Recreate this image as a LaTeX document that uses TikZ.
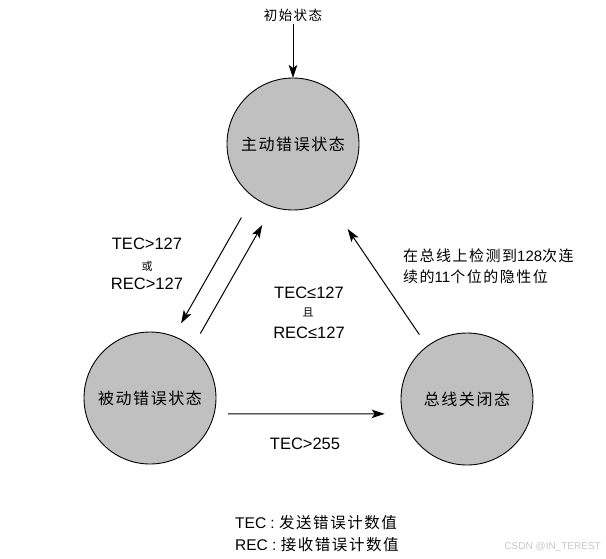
\documentclass[tikz,border=0pt]{standalone}
\usepackage{fontspec}
\setmainfont{Liberation Sans}
\newfontfamily\cjk[LetterSpace=10]{Noto Sans CJK SC}
\usetikzlibrary{arrows.meta}
\definecolor{grisEtat}{RGB}{192,192,192}
\definecolor{grisMarque}{RGB}{200,200,200}
\tikzset{
Etat/.style={
 circle,
 draw=black,
 fill=grisEtat,
 line width=0.9pt,
 minimum size=132pt,
 inner sep=0pt,
 outer sep=0pt,
 font=\fontsize{16}{18}\selectfont\cjk
 },
Fleche/.style={
 draw=black,
 line width=1pt,
 -{Stealth[length=13pt,width=8.5pt,inset=3pt]}
 },
Cond/.style={
 inner sep=0pt,
 font=\fontsize{16.5}{20}\selectfont
 },
Petit/.style={
 inner sep=0pt,
 font=\fontsize{11}{12}\selectfont\cjk
 }
}

\begin{document}
\begin{tikzpicture}[x=1pt,y=-1pt]
\useasboundingbox (0,0) rectangle (606,558);
\node[Etat] (actif) at (293,144) {主动错误状态};
\node[Etat] (passif) at (150,398) {被动错误状态};
\node[Etat] (off) at (467,399) {总线关闭态};
\node[inner sep=0pt,font=\fontsize{13.5}{16}\selectfont\cjk] (init) at (293,15) {初始状态};
% transitions
\draw[Fleche,shorten <=3pt] (init.south) -- (actif.north);
\draw[Fleche,shorten <=24pt,shorten >=15pt] (actif.233.6) -- (passif.69.4);
\draw[Fleche,shorten <=16pt,shorten >=21pt] (passif.50.6) -- (actif.252.8);
\draw[Fleche,shorten <=14pt,shorten >=35pt] (off.127.5) -- (actif.302.4);
\draw[Fleche,shorten <=14pt,shorten >=18pt] (passif.-14) -- (off.193);
% conditions
\node[Cond] (tecA) at (147,244) {TEC>127};
\node[Petit] (ou) at (147,266) {或};
\node[Cond] (recA) at (147,284) {REC>127};
\node[Cond] (tecB) at (309,293) {TEC≤127};
\node[Petit] (et) at (308,312) {且};
\node[Cond] (recB) at (309,333) {REC≤127};
\node[Cond] (tecC) at (305,444) {TEC>255};
\node[inner sep=0pt,anchor=west,align=left,font=\fontsize{15}{21}\selectfont] (bus) at (403,266)
 {{\cjk 在总线上检测到}128{\cjk 次连}\\{\cjk 续的}11{\cjk 个位的隐性位}};
% legende
\node[inner sep=0pt,anchor=west,align=left,font=\fontsize{15.5}{22}\selectfont] (legende) at (235,534)
 {TEC : {\cjk 发送错误计数值}\\REC : {\cjk 接收错误计数值}};
\node[inner sep=0pt,anchor=east,text=grisMarque,font=\fontsize{10}{12}\selectfont] (marque) at (601,547) {CSDN @IN\_TEREST};
\end{tikzpicture}
\end{document}
